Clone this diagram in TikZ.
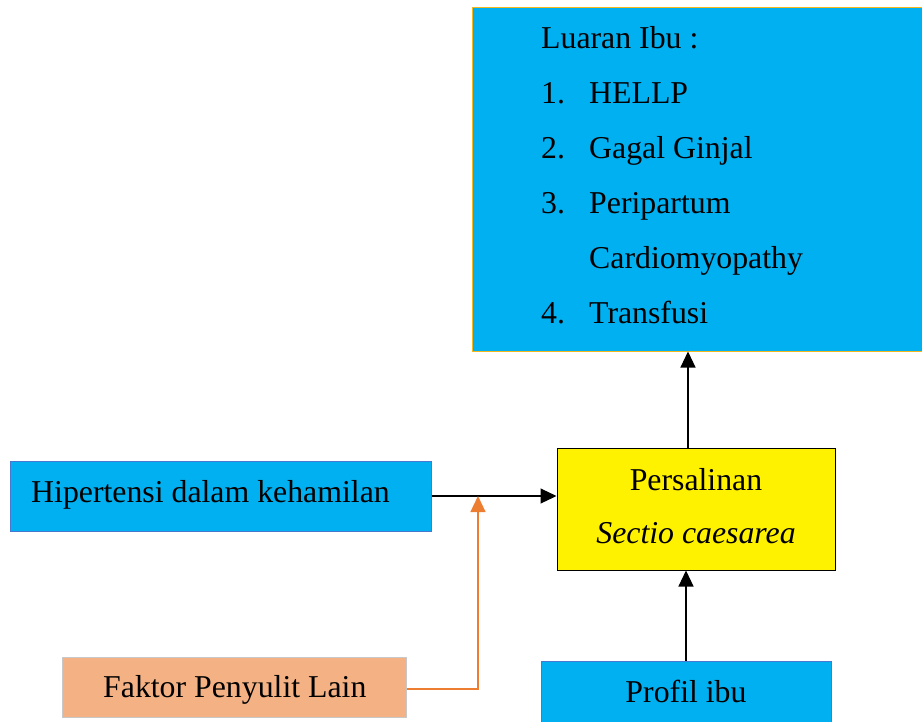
\documentclass[tikz,border=0pt]{standalone}
\usepackage{fontspec}
\setmainfont{Liberation Serif}
\usetikzlibrary{arrows.meta}
\definecolor{skyb}{HTML}{00B0F0}
\definecolor{goldb}{HTML}{F2B820}
\definecolor{blueb}{HTML}{4A78D0}
\definecolor{peach}{HTML}{F4B183}
\definecolor{greyb}{HTML}{C8C8C8}
\definecolor{orangel}{HTML}{ED7D31}
\begin{document}
\begin{tikzpicture}[x=1pt,y=-1pt,
  box/.style={draw, rectangle, inner sep=0pt, line width=1pt},
  lbl/.style={anchor=base west, inner sep=0pt, font=\fontsize{31.8}{38}\selectfont},
  clbl/.style={anchor=base, inner sep=0pt, font=\fontsize{31.8}{38}\selectfont},
  arr/.style={draw=black, line width=1.1pt, -{Triangle[length=16pt,width=15pt]}},
  oarr/.style={draw=orangel, line width=1.3pt, -{Triangle[length=16pt,width=15pt]}}]
\useasboundingbox (0,0) rectangle (922,721);
\clip (0,0) rectangle (922,721);
% boxes
\node[box, fill=skyb, draw=goldb, minimum width=460pt, minimum height=344pt] (luaran) at (702,179) {};
\node[box, fill=skyb, draw=blueb, minimum width=421pt, minimum height=70pt] (hip) at (220.5,496) {};
\node[box, fill=peach, draw=greyb, minimum width=344pt, minimum height=60pt] (fak) at (234,687) {};
\node[box, fill=yellow, draw=black, minimum width=278pt, minimum height=122pt] (pers) at (696,509) {};
\node[box, fill=skyb, draw=blueb, minimum width=290pt, minimum height=70pt] (prof) at (686,696) {};
% texts
\node[lbl] (t0) at (541,48) {Luaran Ibu :};
\node[lbl] (n1) at (541,103) {1.};
\node[lbl] (t1) at (589,103) {HELLP};
\node[lbl] (n2) at (541,158) {2.};
\node[lbl] (t2) at (589,158) {Gagal Ginjal};
\node[lbl] (n3) at (541,213) {3.};
\node[lbl] (t3) at (589,213) {Peripartum};
\node[lbl] (t3b) at (589,268) {Cardiomyopathy};
\node[lbl] (n4) at (541,323) {4.};
\node[lbl] (t4) at (589,323) {Transfusi};
\node[lbl] (th) at (31,502) {Hipertensi dalam kehamilan};
\node[lbl] (tf) at (103,697) {Faktor Penyulit Lain};
\node[clbl] (tp1) at (696,490) {Persalinan};
\node[clbl] (tp2) at (696,543) {\itshape Sectio caesarea};
\node[clbl] (tpr) at (686,702) {Profil ibu};
% connectors
\coordinate (j) at (478,496);
\draw[arr] (hip.east) -- (hip.east -| pers.west);
\draw[oarr] ([yshift=-2pt]fak.east) -| (j);
\draw[arr] ([xshift=-8pt]pers.north) -- ([xshift=-8pt]pers.north |- luaran.south);
\draw[arr] (prof.north) -- (prof.north |- pers.south);
\end{tikzpicture}
\end{document}
